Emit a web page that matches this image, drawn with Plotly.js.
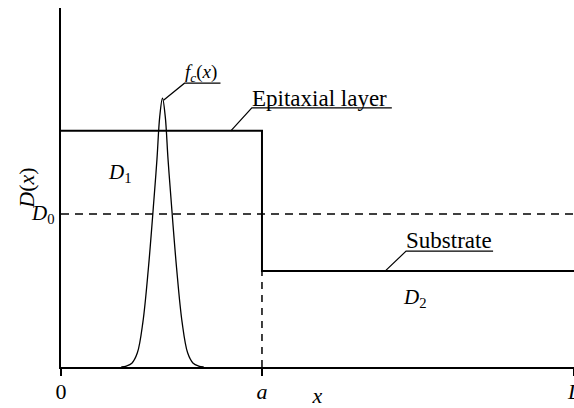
<!DOCTYPE html>
<html>
<head>
<meta charset="utf-8">
<script src="https://cdn.plot.ly/plotly-3.0.1.min.js"></script>
<style>
	html, body { margin: 0; padding: 0; background: #fff; }
</style>
</head>
<body>
<div id="chart"></div>
<script>

// positions along x (0 .. a .. L) and levels of D(x)
var pos_a = 4;
var pos_L = 10.21;
var level_D1 = 5.0;
var level_D2 = 2.03;
var level_D0 = 3.24;

// step profile: epitaxial layer then substrate
var profile_x = [0, pos_a, pos_a, pos_L];
var profile_y = [level_D1, level_D1, level_D2, level_D2];

// f_c(x) bump
var fc_x = [1.20, 1.30, 1.41, 1.52, 1.63, 1.74, 1.85, 1.91, 1.965, 2.02, 2.075, 2.13, 2.19, 2.30, 2.41, 2.52, 2.63, 2.74, 2.84];
var fc_y = [0.00, 0.02, 0.08, 0.30, 0.95, 2.10, 3.55, 4.40, 5.30, 5.69, 5.30, 4.40, 3.55, 2.10, 0.95, 0.30, 0.08, 0.02, 0.00];

var tick_vals = [0, pos_a, pos_L];
var tick_text = ['0', '<i>a</i>', '<i>L</i>'];

var serif = 'Liberation Serif';

var profile = {
	type: 'scatter',
	x: profile_x,
	y: profile_y,
	mode: 'lines',
	line: { color: '#000', width: 2 },
	hoverinfo: 'skip'
};

var d0_line = {
	type: 'scatter',
	x: [0, pos_L],
	y: [level_D0, level_D0],
	mode: 'lines',
	line: { color: '#000', width: 1.5, dash: '8px,6px' },
	hoverinfo: 'skip'
};

var a_line = {
	type: 'scatter',
	x: [pos_a, pos_a],
	y: [0, level_D2],
	mode: 'lines',
	line: { color: '#000', width: 1.5, dash: '7px,6px' },
	hoverinfo: 'skip'
};

var fc_curve = {
	type: 'scatter',
	x: fc_x,
	y: fc_y,
	mode: 'lines',
	line: { color: '#000', width: 1.3, shape: 'spline', smoothing: 1 },
	hoverinfo: 'skip'
};

var data = [d0_line, a_line, fc_curve, profile];

// callout leader + underline, offsets in px from a point on the curve
function leader(px, py, path)
{
	return {
		type: 'path',
		xref: 'x', yref: 'y',
		xsizemode: 'pixel', ysizemode: 'pixel',
		xanchor: px, yanchor: py,
		path: path,
		line: { color: '#000', width: 1.2 }
	};
}

var fc_peak = fc_y.indexOf(Math.max.apply(null, fc_y));

var layout = {
	width: 574,
	height: 408,
	margin: { l: 61, r: 0, t: 8, b: 41 },
	paper_bgcolor: '#fff',
	plot_bgcolor: '#fff',
	showlegend: false,
	font: { family: serif, color: '#000', size: 20 },
	xaxis: {
		range: [0, pos_L],
		showgrid: false,
		zeroline: false,
		showline: true,
		linecolor: '#000',
		linewidth: 2,
		ticks: 'outside',
		ticklen: 7,
		tickwidth: 1.5,
		tickcolor: '#000',
		tickvals: tick_vals,
		ticktext: tick_text,
		ticklabeloverflow: 'allow',
		ticklabelstandoff: -3,
		tickfont: { family: serif, size: 22, color: '#000' },
		title: { text: '<i>x</i>', font: { family: serif, size: 22, color: '#000' }, standoff: 10 }
	},
	yaxis: {
		range: [0, 7.6],
		showgrid: false,
		zeroline: false,
		showline: true,
		linecolor: '#000',
		linewidth: 2,
		ticks: '',
		showticklabels: false,
		title: { text: '<i>D</i>(<i>x</i>)', font: { family: serif, size: 22, color: '#000' }, standoff: 18 }
	},
	shapes: [
		leader(3.38, level_D1, 'M0,0 L21,23 L161,23'),
		leader(6.45, level_D2, 'M0,0 L21,20 L108,20'),
		leader(fc_x[fc_peak], fc_y[fc_peak], 'M1,-2 L22,15 L58,15')
	],
	annotations: [
		{ x: 3.38, y: level_D1, xref: 'x', yref: 'y', text: 'Epitaxial layer', showarrow: false,
		  xanchor: 'left', yanchor: 'middle', xshift: 19, yshift: 32, font: { family: serif, size: 23, color: '#000' } },
		{ x: 6.45, y: level_D2, xref: 'x', yref: 'y', text: 'Substrate', showarrow: false,
		  xanchor: 'left', yanchor: 'middle', xshift: 19, yshift: 31, font: { family: serif, size: 23, color: '#000' } },
		{ x: fc_x[fc_peak], y: fc_y[fc_peak], xref: 'x', yref: 'y', text: '<i>f</i><sub><i>c</i></sub>(<i>x</i>)', showarrow: false,
		  xanchor: 'left', yanchor: 'middle', xshift: 21, yshift: 25, font: { family: serif, size: 19, color: '#000' } },
		{ x: 0.90, y: 4.1, xref: 'x', yref: 'y', text: '<i>D</i><sub>1</sub>', showarrow: false,
		  xanchor: 'left', yanchor: 'middle', font: { family: serif, size: 21, color: '#000' } },
		{ x: 6.77, y: 1.46, xref: 'x', yref: 'y', text: '<i>D</i><sub>2</sub>', showarrow: false,
		  xanchor: 'left', yanchor: 'middle', font: { family: serif, size: 21, color: '#000' } },
		{ x: 0, y: level_D0, xref: 'x', yref: 'y', text: '<i>D</i><sub>0</sub>', showarrow: false,
		  xanchor: 'right', yanchor: 'middle', xshift: -4, font: { family: serif, size: 21, color: '#000' } }
	]
};

var config = { displayModeBar: false };

Plotly.newPlot('chart', data, layout, config);

</script>
</body>
</html>
